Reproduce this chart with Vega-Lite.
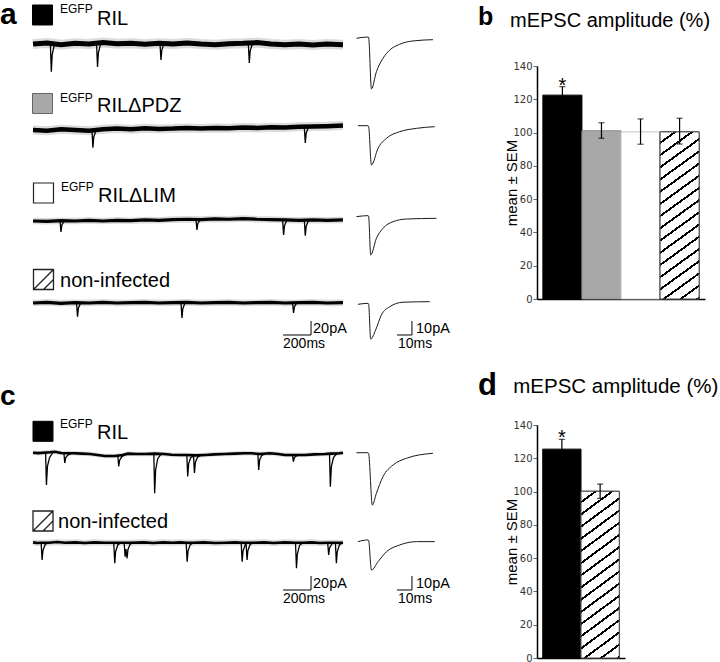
{
  "$schema": "https://vega.github.io/schema/vega-lite/v6.json",
  "padding": 0,
  "background": "white",
  "config": {"view": {"stroke": null}, "font": "Liberation Sans", "axis": {"labelOverlap": false, "labelBound": false, "labelFlush": false}},
  "datasets": {
    "labels": [
      {"row": "a1", "sup": "EGFP", "name": "RIL"},
      {"row": "a2", "sup": "EGFP", "name": "RILΔPDZ"},
      {"row": "a3", "sup": "EGFP", "name": "RILΔLIM"},
      {"row": "a4", "sup": "", "name": "non-infected"},
      {"row": "c1", "sup": "EGFP", "name": "RIL"},
      {"row": "c2", "sup": "", "name": "non-infected"}
    ],
    "rawA": [
      {"row":"a1","t":0,"i":0},{"row":"a1","t":100,"i":1.5},{"row":"a1","t":200,"i":-1},{"row":"a1","t":300,"i":1},{"row":"a1","t":400,"i":0},{"row":"a1","t":500,"i":2},{"row":"a1","t":600,"i":0.5},{"row":"a1","t":700,"i":1},{"row":"a1","t":800,"i":-0.5},{"row":"a1","t":900,"i":1},{"row":"a1","t":1000,"i":0},{"row":"a1","t":1100,"i":1.5},{"row":"a1","t":1200,"i":0},{"row":"a1","t":1300,"i":-1},{"row":"a1","t":1400,"i":0.5},{"row":"a1","t":1500,"i":1},{"row":"a1","t":1600,"i":2},{"row":"a1","t":1700,"i":0},{"row":"a1","t":1800,"i":-1},{"row":"a1","t":1900,"i":0},{"row":"a1","t":2000,"i":-1.5},{"row":"a1","t":2100,"i":0},{"row":"a1","t":2214,"i":-1},
      {"row":"a2","t":0,"i":0},{"row":"a2","t":100,"i":-1},{"row":"a2","t":200,"i":1},{"row":"a2","t":300,"i":0},{"row":"a2","t":400,"i":-1},{"row":"a2","t":500,"i":1},{"row":"a2","t":600,"i":2},{"row":"a2","t":700,"i":1},{"row":"a2","t":800,"i":2.5},{"row":"a2","t":900,"i":1.5},{"row":"a2","t":1000,"i":2},{"row":"a2","t":1100,"i":3},{"row":"a2","t":1200,"i":2},{"row":"a2","t":1300,"i":3},{"row":"a2","t":1400,"i":2.5},{"row":"a2","t":1500,"i":3.5},{"row":"a2","t":1600,"i":3},{"row":"a2","t":1700,"i":4},{"row":"a2","t":1800,"i":3.5},{"row":"a2","t":1900,"i":4.5},{"row":"a2","t":2000,"i":5},{"row":"a2","t":2100,"i":5.5},{"row":"a2","t":2214,"i":6.5},
      {"row":"a3","t":0,"i":0},{"row":"a3","t":100,"i":-0.5},{"row":"a3","t":200,"i":0.5},{"row":"a3","t":300,"i":0},{"row":"a3","t":400,"i":1},{"row":"a3","t":500,"i":0},{"row":"a3","t":600,"i":1},{"row":"a3","t":700,"i":0.5},{"row":"a3","t":800,"i":1.5},{"row":"a3","t":900,"i":1},{"row":"a3","t":1000,"i":2},{"row":"a3","t":1100,"i":2.5},{"row":"a3","t":1200,"i":2},{"row":"a3","t":1300,"i":3},{"row":"a3","t":1400,"i":2.5},{"row":"a3","t":1500,"i":3.5},{"row":"a3","t":1600,"i":2.5},{"row":"a3","t":1700,"i":2},{"row":"a3","t":1800,"i":1.5},{"row":"a3","t":1900,"i":1},{"row":"a3","t":2000,"i":1.5},{"row":"a3","t":2100,"i":1},{"row":"a3","t":2214,"i":1.5},
      {"row":"a4","t":0,"i":0},{"row":"a4","t":100,"i":1},{"row":"a4","t":200,"i":-0.5},{"row":"a4","t":300,"i":0.5},{"row":"a4","t":400,"i":0},{"row":"a4","t":500,"i":1},{"row":"a4","t":600,"i":0},{"row":"a4","t":700,"i":0.5},{"row":"a4","t":800,"i":1},{"row":"a4","t":900,"i":0},{"row":"a4","t":1000,"i":0.5},{"row":"a4","t":1100,"i":1},{"row":"a4","t":1200,"i":0},{"row":"a4","t":1300,"i":0.5},{"row":"a4","t":1400,"i":1},{"row":"a4","t":1500,"i":0},{"row":"a4","t":1600,"i":0.5},{"row":"a4","t":1700,"i":1},{"row":"a4","t":1800,"i":0},{"row":"a4","t":1900,"i":0.5},{"row":"a4","t":2000,"i":1},{"row":"a4","t":2100,"i":0},{"row":"a4","t":2214,"i":0.5}
    ],
    "evA": [
      {"row":"a1","ev":1,"t":124,"i":0.5},{"row":"a1","ev":1,"t":131,"i":-39.6},{"row":"a1","ev":1,"t":137,"i":-15.5},{"row":"a1","ev":1,"t":154,"i":0.5},
      {"row":"a1","ev":2,"t":454,"i":1},{"row":"a1","ev":2,"t":461,"i":-32.9},{"row":"a1","ev":2,"t":467,"i":-12.6},{"row":"a1","ev":2,"t":484,"i":1},
      {"row":"a1","ev":3,"t":907,"i":1},{"row":"a1","ev":3,"t":914,"i":-22.9},{"row":"a1","ev":3,"t":920,"i":-8.6},{"row":"a1","ev":3,"t":937,"i":1},
      {"row":"a1","ev":4,"t":1538,"i":1},{"row":"a1","ev":4,"t":1545,"i":-27.1},{"row":"a1","ev":4,"t":1551,"i":-10.2},{"row":"a1","ev":4,"t":1568,"i":1},
      {"row":"a2","ev":1,"t":421,"i":0},{"row":"a2","ev":1,"t":428,"i":-25.3},{"row":"a2","ev":1,"t":434,"i":-10},{"row":"a2","ev":1,"t":451,"i":0},
      {"row":"a2","ev":2,"t":1938,"i":4.5},{"row":"a2","ev":2,"t":1945,"i":-18.6},{"row":"a2","ev":2,"t":1951,"i":-5},{"row":"a2","ev":2,"t":1968,"i":4.5},
      {"row":"a3","ev":1,"t":193,"i":0.5},{"row":"a3","ev":1,"t":200,"i":-15.7},{"row":"a3","ev":1,"t":206,"i":-6},{"row":"a3","ev":1,"t":223,"i":0.5},
      {"row":"a3","ev":2,"t":1164,"i":2.3},{"row":"a3","ev":2,"t":1171,"i":-12.9},{"row":"a3","ev":2,"t":1177,"i":-3.8},{"row":"a3","ev":2,"t":1194,"i":2.3},
      {"row":"a3","ev":3,"t":1783,"i":1.5},{"row":"a3","ev":3,"t":1790,"i":-20},{"row":"a3","ev":3,"t":1796,"i":-7.1},{"row":"a3","ev":3,"t":1813,"i":1.5},
      {"row":"a3","ev":4,"t":1938,"i":1},{"row":"a3","ev":4,"t":1945,"i":-21},{"row":"a3","ev":4,"t":1951,"i":-7.8},{"row":"a3","ev":4,"t":1968,"i":1},
      {"row":"a4","ev":1,"t":311,"i":0.5},{"row":"a4","ev":1,"t":318,"i":-19.6},{"row":"a4","ev":1,"t":324,"i":-7.5},{"row":"a4","ev":1,"t":341,"i":0.5},
      {"row":"a4","ev":2,"t":1057,"i":0.8},{"row":"a4","ev":2,"t":1064,"i":-21.4},{"row":"a4","ev":2,"t":1070,"i":-8.1},{"row":"a4","ev":2,"t":1087,"i":0.8},
      {"row":"a4","ev":3,"t":1854,"i":0.3},{"row":"a4","ev":3,"t":1861,"i":-14.3},{"row":"a4","ev":3,"t":1867,"i":-5.5},{"row":"a4","ev":3,"t":1884,"i":0.3}
    ],
    "rawC": [
      {"row":"c1","t":0,"i":1.9},{"row":"c1","t":40,"i":1.2},{"row":"c1","t":71,"i":1.9},{"row":"c1","t":120,"i":2.5},{"row":"c1","t":157,"i":3.3},{"row":"c1","t":200,"i":1.5},{"row":"c1","t":260,"i":1},{"row":"c1","t":294,"i":1},{"row":"c1","t":350,"i":0.5},{"row":"c1","t":407,"i":0},{"row":"c1","t":460,"i":-1.5},{"row":"c1","t":514,"i":-2.9},{"row":"c1","t":586,"i":-2.9},{"row":"c1","t":640,"i":-1.5},{"row":"c1","t":679,"i":0.5},{"row":"c1","t":740,"i":0},{"row":"c1","t":800,"i":0},{"row":"c1","t":870,"i":0.5},{"row":"c1","t":936,"i":0},{"row":"c1","t":990,"i":-1},{"row":"c1","t":1050,"i":-1.4},{"row":"c1","t":1100,"i":-1.4},{"row":"c1","t":1160,"i":-2},{"row":"c1","t":1229,"i":-1.4},{"row":"c1","t":1300,"i":-0.5},{"row":"c1","t":1371,"i":0},{"row":"c1","t":1440,"i":0.5},{"row":"c1","t":1514,"i":1},{"row":"c1","t":1560,"i":1},{"row":"c1","t":1620,"i":0},{"row":"c1","t":1693,"i":1},{"row":"c1","t":1750,"i":0},{"row":"c1","t":1800,"i":-1.4},{"row":"c1","t":1860,"i":-1.4},{"row":"c1","t":1943,"i":-1.4},{"row":"c1","t":2010,"i":-0.5},{"row":"c1","t":2086,"i":0},{"row":"c1","t":2130,"i":0.5},{"row":"c1","t":2191,"i":1},{"row":"c1","t":2214,"i":1.9},
      {"row":"c2","t":0,"i":0.5},{"row":"c2","t":30,"i":-0.5},{"row":"c2","t":58,"i":0},{"row":"c2","t":112,"i":0},{"row":"c2","t":170,"i":1},{"row":"c2","t":230,"i":0},{"row":"c2","t":300,"i":0.5},{"row":"c2","t":370,"i":-0.5},{"row":"c2","t":440,"i":0.5},{"row":"c2","t":510,"i":0},{"row":"c2","t":577,"i":0},{"row":"c2","t":631,"i":0},{"row":"c2","t":700,"i":0},{"row":"c2","t":790,"i":0.5},{"row":"c2","t":860,"i":-0.5},{"row":"c2","t":930,"i":0.5},{"row":"c2","t":1000,"i":0},{"row":"c2","t":1050,"i":0.5},{"row":"c2","t":1100,"i":0},{"row":"c2","t":1148,"i":0},{"row":"c2","t":1220,"i":0.5},{"row":"c2","t":1300,"i":-0.5},{"row":"c2","t":1380,"i":0},{"row":"c2","t":1440,"i":0.5},{"row":"c2","t":1500,"i":0},{"row":"c2","t":1576,"i":0},{"row":"c2","t":1650,"i":0.5},{"row":"c2","t":1720,"i":-0.5},{"row":"c2","t":1800,"i":0.5},{"row":"c2","t":1875,"i":0},{"row":"c2","t":1929,"i":0},{"row":"c2","t":1990,"i":0.5},{"row":"c2","t":2050,"i":-0.5},{"row":"c2","t":2105,"i":0},{"row":"c2","t":2160,"i":0},{"row":"c2","t":2214,"i":0}
    ],
    "evC": [
      {"row":"c1","ev":1,"t":90,"i":1.9},{"row":"c1","ev":1,"t":96,"i":-44.3},{"row":"c1","ev":1,"t":103,"i":-17.7},{"row":"c1","ev":1,"t":118,"i":-5.3},{"row":"c1","ev":1,"t":143,"i":2.5},
      {"row":"c1","ev":2,"t":221,"i":1},{"row":"c1","ev":2,"t":227,"i":-12.9},{"row":"c1","ev":2,"t":234,"i":-5},{"row":"c1","ev":2,"t":249,"i":-1.5},{"row":"c1","ev":2,"t":274,"i":1},
      {"row":"c1","ev":3,"t":606,"i":-2.9},{"row":"c1","ev":3,"t":612,"i":-17.6},{"row":"c1","ev":3,"t":619,"i":-8.8},{"row":"c1","ev":3,"t":634,"i":-4},{"row":"c1","ev":3,"t":659,"i":-0.5},
      {"row":"c1","ev":4,"t":863,"i":0},{"row":"c1","ev":4,"t":869,"i":-56.2},{"row":"c1","ev":4,"t":876,"i":-22.5},{"row":"c1","ev":4,"t":891,"i":-6.7},{"row":"c1","ev":4,"t":916,"i":0.3},
      {"row":"c1","ev":5,"t":1099,"i":-1.4},{"row":"c1","ev":5,"t":1105,"i":-32},{"row":"c1","ev":5,"t":1112,"i":-13.6},{"row":"c1","ev":5,"t":1127,"i":-5},{"row":"c1","ev":5,"t":1147,"i":-3},{"row":"c1","ev":5,"t":1153,"i":-27},{"row":"c1","ev":5,"t":1160,"i":-11.7},{"row":"c1","ev":5,"t":1175,"i":-4.5},{"row":"c1","ev":5,"t":1200,"i":-1.6},
      {"row":"c1","ev":6,"t":1606,"i":1},{"row":"c1","ev":6,"t":1612,"i":-22.9},{"row":"c1","ev":6,"t":1619,"i":-8.6},{"row":"c1","ev":6,"t":1634,"i":-1.9},{"row":"c1","ev":6,"t":1659,"i":0.5},
      {"row":"c1","ev":7,"t":1854,"i":-1.4},{"row":"c1","ev":7,"t":1860,"i":-11},{"row":"c1","ev":7,"t":1867,"i":-5.2},{"row":"c1","ev":7,"t":1882,"i":-2.5},{"row":"c1","ev":7,"t":1907,"i":-1.4},
      {"row":"c1","ev":8,"t":2118,"i":0.5},{"row":"c1","ev":8,"t":2124,"i":-46.7},{"row":"c1","ev":8,"t":2131,"i":-18.4},{"row":"c1","ev":8,"t":2146,"i":-5.2},{"row":"c1","ev":8,"t":2171,"i":0.8},
      {"row":"c2","ev":1,"t":58,"i":0},{"row":"c2","ev":1,"t":65,"i":-24.7},{"row":"c2","ev":1,"t":71,"i":-11},{"row":"c2","ev":1,"t":87,"i":-2.5},{"row":"c2","ev":1,"t":112,"i":0},
      {"row":"c2","ev":2,"t":577,"i":0},{"row":"c2","ev":2,"t":584,"i":-29.4},{"row":"c2","ev":2,"t":590,"i":-13},{"row":"c2","ev":2,"t":606,"i":-3},{"row":"c2","ev":2,"t":631,"i":0},
      {"row":"c2","ev":3,"t":651,"i":0},{"row":"c2","ev":3,"t":658,"i":-20},{"row":"c2","ev":3,"t":664,"i":-9},{"row":"c2","ev":3,"t":672,"i":-22.3},{"row":"c2","ev":3,"t":678,"i":-10},{"row":"c2","ev":3,"t":694,"i":-2},{"row":"c2","ev":3,"t":719,"i":0},
      {"row":"c2","ev":4,"t":1094,"i":0},{"row":"c2","ev":4,"t":1101,"i":-27.1},{"row":"c2","ev":4,"t":1107,"i":-12},{"row":"c2","ev":4,"t":1123,"i":-2.7},{"row":"c2","ev":4,"t":1148,"i":0},
      {"row":"c2","ev":5,"t":1487,"i":0},{"row":"c2","ev":5,"t":1494,"i":-27.1},{"row":"c2","ev":5,"t":1500,"i":-12},{"row":"c2","ev":5,"t":1516,"i":-3},{"row":"c2","ev":5,"t":1522,"i":-1},{"row":"c2","ev":5,"t":1529,"i":-24.7},{"row":"c2","ev":5,"t":1535,"i":-11},{"row":"c2","ev":5,"t":1551,"i":-2.5},{"row":"c2","ev":5,"t":1576,"i":0},
      {"row":"c2","ev":6,"t":1875,"i":0},{"row":"c2","ev":6,"t":1882,"i":-36.6},{"row":"c2","ev":6,"t":1888,"i":-16.5},{"row":"c2","ev":6,"t":1904,"i":-3.7},{"row":"c2","ev":6,"t":1929,"i":0},
      {"row":"c2","ev":7,"t":2105,"i":0},{"row":"c2","ev":7,"t":2112,"i":-17.6},{"row":"c2","ev":7,"t":2118,"i":-8},{"row":"c2","ev":7,"t":2134,"i":-1.8},{"row":"c2","ev":7,"t":2160,"i":0},
      {"row":"c2","ev":8,"t":2160,"i":0},{"row":"c2","ev":8,"t":2167,"i":-29.4},{"row":"c2","ev":8,"t":2173,"i":-13},{"row":"c2","ev":8,"t":2189,"i":-3},{"row":"c2","ev":8,"t":2214,"i":0}
    ],
    "avg": [
      {"row":"a1","t":-7.7,"i":-0.2},{"row":"a1","t":0,"i":0.7},{"row":"a1","t":0.4,"i":0.5},{"row":"a1","t":2.3,"i":-36.4},{"row":"a1","t":5.6,"i":-24.1},{"row":"a1","t":10,"i":-14.5},{"row":"a1","t":14.5,"i":-8.6},{"row":"a1","t":21.1,"i":-4.5},{"row":"a1","t":30,"i":-2.1},{"row":"a1","t":43.3,"i":-1.2},
      {"row":"a2","t":-6.7,"i":0},{"row":"a2","t":0,"i":0},{"row":"a2","t":0.4,"i":-0.5},{"row":"a2","t":2.3,"i":-28.1},{"row":"a2","t":6.7,"i":-16.1},{"row":"a2","t":12.3,"i":-9},{"row":"a2","t":21.1,"i":-4.3},{"row":"a2","t":32.3,"i":-1.9},{"row":"a2","t":44.5,"i":-0.7},
      {"row":"a3","t":-7.7,"i":-0.1},{"row":"a3","t":0,"i":0.6},{"row":"a3","t":0.4,"i":0.3},{"row":"a3","t":1.8,"i":-27.5},{"row":"a3","t":5.6,"i":-15.6},{"row":"a3","t":10,"i":-8.4},{"row":"a3","t":16.7,"i":-3.7},{"row":"a3","t":25.6,"i":-1.8},{"row":"a3","t":45.6,"i":-1.3},
      {"row":"a4","t":-6.7,"i":-0.6},{"row":"a4","t":0,"i":0.1},{"row":"a4","t":0.4,"i":-0.3},{"row":"a4","t":1.8,"i":-25.4},{"row":"a4","t":5.1,"i":-18.9},{"row":"a4","t":8.9,"i":-8.2},{"row":"a4","t":14.5,"i":-2.3},{"row":"a4","t":23.3,"i":0.9},{"row":"a4","t":41.1,"i":1.3},
      {"row":"c1","t":-7.7,"i":0},{"row":"c1","t":0,"i":0},{"row":"c1","t":0.4,"i":-0.5},{"row":"c1","t":2.9,"i":-37.4},{"row":"c1","t":5.6,"i":-29},{"row":"c1","t":10,"i":-17.1},{"row":"c1","t":16.7,"i":-8.8},{"row":"c1","t":25.6,"i":-4},{"row":"c1","t":43.3,"i":-0.4},
      {"row":"c2","t":-6.7,"i":-0.1},{"row":"c2","t":0,"i":1.1},{"row":"c2","t":0.4,"i":0.8},{"row":"c2","t":2.3,"i":-20.4},{"row":"c2","t":6.7,"i":-14.4},{"row":"c2","t":12.3,"i":-7.3},{"row":"c2","t":21.1,"i":-2.5},{"row":"c2","t":32.3,"i":-0.1},{"row":"c2","t":44.5,"i":-0.1}
    ],
    "barsB": [
      {"cond": "EGFP-RIL", "mean": 122.5, "lo": 117.4, "hi": 127.6, "sig": true},
      {"cond": "EGFP-RILΔPDZ", "mean": 101.1, "lo": 96.6, "hi": 105.9, "sig": false},
      {"cond": "EGFP-RILΔLIM", "mean": 100.4, "lo": 93.0, "hi": 108.2, "sig": false},
      {"cond": "non-infected", "mean": 100.4, "lo": 93.1, "hi": 108.6, "sig": false}
    ],
    "barsD": [
      {"cond": "EGFP-RIL", "mean": 125.5, "lo": 119.6, "hi": 131.4, "sig": true},
      {"cond": "non-infected", "mean": 100.2, "lo": 95.9, "hi": 104.5, "sig": false}
    ]
  },
  "spacing": 18,
  "vconcat": [
    {
      "bounds": "flush",
      "spacing": 77,
      "hconcat": [
        {
          "width": 460, "height": 233,
          "resolve": {"scale": {"x": "independent", "y": "independent"}},
          "layer": [
            {"layer": [
              {"data": {"name": "rawA"}, "transform": [{"filter": "datum.row === 'a1'"}],
               "mark": {"type": "line", "color": "#888", "strokeWidth": 10, "opacity": 0.3},
               "encoding": {"x": {"field": "t", "type": "quantitative", "scale": {"domain": [-235.7, 3050], "nice": false, "zero": false}, "axis": null},
                            "y": {"field": "i", "type": "quantitative", "scale": {"domain": [-364.29, -31.43], "nice": false, "zero": false}, "axis": null}}},
              {"data": {"name": "rawA"}, "transform": [{"filter": "datum.row === 'a1'"}],
               "mark": {"type": "line", "color": "black", "strokeWidth": 5},
               "encoding": {"x": {"field": "t", "type": "quantitative", "axis": null}, "y": {"field": "i", "type": "quantitative", "axis": null}}},
              {"data": {"name": "evA"}, "transform": [{"filter": "datum.row === 'a1'"}],
               "mark": {"type": "line", "color": "black", "strokeWidth": 1.3},
               "encoding": {"x": {"field": "t", "type": "quantitative", "axis": null}, "y": {"field": "i", "type": "quantitative", "axis": null}, "detail": {"field": "ev"}}},
              {"data": {"name": "labels"}, "transform": [{"filter": "datum.row === 'a1'"}],
               "mark": {"type": "point", "shape": "square", "size": 400, "filled": true, "fill": "black", "stroke": "black", "strokeWidth": 1, "opacity": 1},
               "encoding": {"x": {"datum": 67.9, "type": "quantitative", "axis": null}, "y": {"datum": 41.43, "type": "quantitative", "axis": null}}},
              {"data": {"name": "labels"}, "transform": [{"filter": "datum.row === 'a1'"}],
               "mark": {"type": "text", "align": "left", "baseline": "alphabetic", "fontSize": 12, "color": "black"},
               "encoding": {"x": {"datum": 192.9, "type": "quantitative", "axis": null}, "y": {"datum": 44.29, "type": "quantitative", "axis": null}, "text": {"field": "sup"}}},
              {"data": {"name": "labels"}, "transform": [{"filter": "datum.row === 'a1'"}],
               "mark": {"type": "text", "align": "left", "baseline": "alphabetic", "fontSize": 20, "color": "black"},
               "encoding": {"x": {"datum": 457.1, "type": "quantitative", "axis": null}, "y": {"datum": 27.14, "type": "quantitative", "axis": null}, "text": {"field": "name"}}},
              {"data": {"name": "labels"}, "transform": [{"filter": "datum.row === 'a1'"}],
               "mark": {"type": "text", "align": "left", "baseline": "alphabetic", "fontSize": 30, "fontWeight": "bold", "color": "black", "text": "a"},
               "encoding": {"x": {"datum": -235.7, "type": "quantitative", "axis": null}, "y": {"datum": 27.86, "type": "quantitative", "axis": null}}}
            ]},
            {"data": {"name": "avg"}, "transform": [{"filter": "datum.row === 'a1'"}],
             "mark": {"type": "line", "color": "#1a1a1a", "strokeWidth": 1, "interpolate": "monotone"},
             "encoding": {"x": {"field": "t", "type": "quantitative", "scale": {"domain": [-245.33, 61.33], "nice": false, "zero": false}, "axis": null},
                          "y": {"field": "i", "type": "quantitative", "scale": {"domain": [-186.43, -20], "nice": false, "zero": false}, "axis": null}}},
            {"layer": [
              {"data": {"name": "rawA"}, "transform": [{"filter": "datum.row === 'a2'"}],
               "mark": {"type": "line", "color": "#888", "strokeWidth": 9, "opacity": 0.3},
               "encoding": {"x": {"field": "t", "type": "quantitative", "scale": {"domain": [-235.7, 3050], "nice": false, "zero": false}, "axis": null},
                            "y": {"field": "i", "type": "quantitative", "scale": {"domain": [-241.43, 91.43], "nice": false, "zero": false}, "axis": null}}},
              {"data": {"name": "rawA"}, "transform": [{"filter": "datum.row === 'a2'"}],
               "mark": {"type": "line", "color": "black", "strokeWidth": 4.5},
               "encoding": {"x": {"field": "t", "type": "quantitative", "axis": null}, "y": {"field": "i", "type": "quantitative", "axis": null}}},
              {"data": {"name": "evA"}, "transform": [{"filter": "datum.row === 'a2'"}],
               "mark": {"type": "line", "color": "black", "strokeWidth": 1.3},
               "encoding": {"x": {"field": "t", "type": "quantitative", "axis": null}, "y": {"field": "i", "type": "quantitative", "axis": null}, "detail": {"field": "ev"}}},
              {"data": {"name": "labels"}, "transform": [{"filter": "datum.row === 'a2'"}],
               "mark": {"type": "point", "shape": "square", "size": 400, "filled": true, "fill": "#a8a8a8", "stroke": "#666", "strokeWidth": 1, "opacity": 1},
               "encoding": {"x": {"datum": 67.9, "type": "quantitative", "axis": null}, "y": {"datum": 37.86, "type": "quantitative", "axis": null}}},
              {"data": {"name": "labels"}, "transform": [{"filter": "datum.row === 'a2'"}],
               "mark": {"type": "text", "align": "left", "baseline": "alphabetic", "fontSize": 12, "color": "black"},
               "encoding": {"x": {"datum": 192.9, "type": "quantitative", "axis": null}, "y": {"datum": 40, "type": "quantitative", "axis": null}, "text": {"field": "sup"}}},
              {"data": {"name": "labels"}, "transform": [{"filter": "datum.row === 'a2'"}],
               "mark": {"type": "text", "align": "left", "baseline": "alphabetic", "fontSize": 20, "color": "black"},
               "encoding": {"x": {"datum": 457.1, "type": "quantitative", "axis": null}, "y": {"datum": 25.71, "type": "quantitative", "axis": null}, "text": {"field": "name"}}}
            ]},
            {"data": {"name": "avg"}, "transform": [{"filter": "datum.row === 'a2'"}],
             "mark": {"type": "line", "color": "#1a1a1a", "strokeWidth": 1, "interpolate": "monotone"},
             "encoding": {"x": {"field": "t", "type": "quantitative", "scale": {"domain": [-245.33, 61.33], "nice": false, "zero": false}, "axis": null},
                          "y": {"field": "i", "type": "quantitative", "scale": {"domain": [-123.79, 42.64], "nice": false, "zero": false}, "axis": null}}},
            {"layer": [
              {"data": {"name": "rawA"}, "transform": [{"filter": "datum.row === 'a3'"}],
               "mark": {"type": "line", "color": "#888", "strokeWidth": 6.5, "opacity": 0.3},
               "encoding": {"x": {"field": "t", "type": "quantitative", "scale": {"domain": [-235.7, 3050], "nice": false, "zero": false}, "axis": null},
                            "y": {"field": "i", "type": "quantitative", "scale": {"domain": [-111.43, 221.43], "nice": false, "zero": false}, "axis": null}}},
              {"data": {"name": "rawA"}, "transform": [{"filter": "datum.row === 'a3'"}],
               "mark": {"type": "line", "color": "black", "strokeWidth": 3.2},
               "encoding": {"x": {"field": "t", "type": "quantitative", "axis": null}, "y": {"field": "i", "type": "quantitative", "axis": null}}},
              {"data": {"name": "evA"}, "transform": [{"filter": "datum.row === 'a3'"}],
               "mark": {"type": "line", "color": "black", "strokeWidth": 1.3},
               "encoding": {"x": {"field": "t", "type": "quantitative", "axis": null}, "y": {"field": "i", "type": "quantitative", "axis": null}, "detail": {"field": "ev"}}},
              {"data": {"name": "labels"}, "transform": [{"filter": "datum.row === 'a3'"}],
               "mark": {"type": "point", "shape": "square", "size": 400, "filled": true, "fill": "white", "stroke": "#222", "strokeWidth": 1.2, "opacity": 1},
               "encoding": {"x": {"datum": 75, "type": "quantitative", "axis": null}, "y": {"datum": 40, "type": "quantitative", "axis": null}}},
              {"data": {"name": "labels"}, "transform": [{"filter": "datum.row === 'a3'"}],
               "mark": {"type": "text", "align": "left", "baseline": "alphabetic", "fontSize": 12, "color": "black"},
               "encoding": {"x": {"datum": 200, "type": "quantitative", "axis": null}, "y": {"datum": 42.86, "type": "quantitative", "axis": null}, "text": {"field": "sup"}}},
              {"data": {"name": "labels"}, "transform": [{"filter": "datum.row === 'a3'"}],
               "mark": {"type": "text", "align": "left", "baseline": "alphabetic", "fontSize": 20, "color": "black"},
               "encoding": {"x": {"datum": 464.3, "type": "quantitative", "axis": null}, "y": {"datum": 27.14, "type": "quantitative", "axis": null}, "text": {"field": "name"}}}
            ]},
            {"data": {"name": "avg"}, "transform": [{"filter": "datum.row === 'a3'"}],
             "mark": {"type": "line", "color": "#1a1a1a", "strokeWidth": 1, "interpolate": "monotone"},
             "encoding": {"x": {"field": "t", "type": "quantitative", "scale": {"domain": [-245.33, 61.33], "nice": false, "zero": false}, "axis": null},
                          "y": {"field": "i", "type": "quantitative", "scale": {"domain": [-58.93, 107.5], "nice": false, "zero": false}, "axis": null}}},
            {"layer": [
              {"data": {"name": "rawA"}, "transform": [{"filter": "datum.row === 'a4'"}],
               "mark": {"type": "line", "color": "#888", "strokeWidth": 6.5, "opacity": 0.3},
               "encoding": {"x": {"field": "t", "type": "quantitative", "scale": {"domain": [-235.7, 3050], "nice": false, "zero": false}, "axis": null},
                            "y": {"field": "i", "type": "quantitative", "scale": {"domain": [5.71, 338.57], "nice": false, "zero": false}, "axis": null}}},
              {"data": {"name": "rawA"}, "transform": [{"filter": "datum.row === 'a4'"}],
               "mark": {"type": "line", "color": "black", "strokeWidth": 3.2},
               "encoding": {"x": {"field": "t", "type": "quantitative", "axis": null}, "y": {"field": "i", "type": "quantitative", "axis": null}}},
              {"data": {"name": "evA"}, "transform": [{"filter": "datum.row === 'a4'"}],
               "mark": {"type": "line", "color": "black", "strokeWidth": 1.3},
               "encoding": {"x": {"field": "t", "type": "quantitative", "axis": null}, "y": {"field": "i", "type": "quantitative", "axis": null}, "detail": {"field": "ev"}}},
              {"data": {"name": "labels"}, "transform": [{"filter": "datum.row === 'a4'"}],
               "mark": {"type": "point", "shape": "M-1,-1L1,-1L1,1L-1,1Z M-1,1L1,-1 M0,1L1,0", "size": 400, "filled": true, "fill": "white", "stroke": "#222", "strokeWidth": 1.3, "opacity": 1},
               "encoding": {"x": {"datum": 75, "type": "quantitative", "axis": null}, "y": {"datum": 33.57, "type": "quantitative", "axis": null}}},
              {"data": {"name": "labels"}, "transform": [{"filter": "datum.row === 'a4'"}],
               "mark": {"type": "text", "align": "left", "baseline": "alphabetic", "fontSize": 20, "color": "black"},
               "encoding": {"x": {"datum": 192.9, "type": "quantitative", "axis": null}, "y": {"datum": 22.86, "type": "quantitative", "axis": null}, "text": {"field": "name"}}},
              {"data": {"values": [{}]}, "mark": {"type": "rule", "color": "black", "strokeWidth": 1},
               "encoding": {"x": {"datum": 1786, "type": "quantitative", "axis": null}, "x2": {"datum": 1986}, "y": {"datum": -45.71, "type": "quantitative", "axis": null}}},
              {"data": {"values": [{}]}, "mark": {"type": "rule", "color": "black", "strokeWidth": 1},
               "encoding": {"x": {"datum": 1986, "type": "quantitative", "axis": null}, "y": {"datum": -45.71, "type": "quantitative", "axis": null}, "y2": {"datum": -25.71}}},
              {"data": {"values": [{}]}, "mark": {"type": "text", "align": "left", "baseline": "alphabetic", "fontSize": 14.5, "color": "black", "text": "20pA"},
               "encoding": {"x": {"datum": 2000, "type": "quantitative", "axis": null}, "y": {"datum": -42.86, "type": "quantitative", "axis": null}}},
              {"data": {"values": [{}]}, "mark": {"type": "text", "align": "left", "baseline": "alphabetic", "fontSize": 14, "color": "black", "text": "200ms"},
               "encoding": {"x": {"datum": 1786, "type": "quantitative", "axis": null}, "y": {"datum": -64.29, "type": "quantitative", "axis": null}}}
            ]},
            {"layer": [
              {"data": {"name": "avg"}, "transform": [{"filter": "datum.row === 'a4'"}],
               "mark": {"type": "line", "color": "#1a1a1a", "strokeWidth": 1, "interpolate": "monotone"},
               "encoding": {"x": {"field": "t", "type": "quantitative", "scale": {"domain": [-245.33, 61.33], "nice": false, "zero": false}, "axis": null},
                            "y": {"field": "i", "type": "quantitative", "scale": {"domain": [3.21, 169.64], "nice": false, "zero": false}, "axis": null}}},
              {"data": {"values": [{}]}, "mark": {"type": "rule", "color": "black", "strokeWidth": 1},
               "encoding": {"x": {"datum": 19.3, "type": "quantitative", "axis": null}, "x2": {"datum": 29.3}, "y": {"datum": -22.5, "type": "quantitative", "axis": null}}},
              {"data": {"values": [{}]}, "mark": {"type": "rule", "color": "black", "strokeWidth": 1},
               "encoding": {"x": {"datum": 29.3, "type": "quantitative", "axis": null}, "y": {"datum": -22.5, "type": "quantitative", "axis": null}, "y2": {"datum": -12.5}}},
              {"data": {"values": [{}]}, "mark": {"type": "text", "align": "left", "baseline": "alphabetic", "fontSize": 14.5, "color": "black", "text": "10pA"},
               "encoding": {"x": {"datum": 32, "type": "quantitative", "axis": null}, "y": {"datum": -21.07, "type": "quantitative", "axis": null}}},
              {"data": {"values": [{}]}, "mark": {"type": "text", "align": "left", "baseline": "alphabetic", "fontSize": 14, "color": "black", "text": "10ms"},
               "encoding": {"x": {"datum": 20, "type": "quantitative", "axis": null}, "y": {"datum": -31.79, "type": "quantitative", "axis": null}}}
            ]}
          ]
        },
        {
          "width": 168, "height": 233,
          "data": {"name": "barsB"},
          "layer": [
            {"mark": {"type": "bar", "strokeWidth": 1},
             "encoding": {
               "x": {"field": "cond", "type": "nominal", "sort": null, "scale": {"paddingInner": 0, "paddingOuter": 0.15}, "axis": {"labels": false, "ticks": false, "title": null, "domainColor": "black", "domainWidth": 1.5}},
               "y": {"field": "mean", "type": "quantitative", "scale": {"domain": [0, 140], "nice": false}, "axis": {"values": [0, 20, 40, 60, 80, 100, 120, 140], "labelOverlap": false, "grid": false, "labelFont": "DejaVu Sans", "labelFontSize": 10, "labelColor": "#333", "labelPadding": 1, "tickSize": 4, "tickColor": "#666", "domainColor": "black", "domainWidth": 1.5, "title": "mean ± SEM", "titleFontSize": 15, "titleFontWeight": "normal", "titleColor": "black", "titleX": -17.5, "titleY": 116.5}},
               "fill": {"field": "cond", "type": "nominal", "sort": null, "scale": {"domain": ["EGFP-RIL", "EGFP-RILΔPDZ", "EGFP-RILΔLIM", "non-infected"], "range": ["#000000", "#a8a8a8", "#ffffff", "#ffffff"]}, "legend": null},
               "stroke": {"field": "cond", "type": "nominal", "sort": null, "scale": {"domain": ["EGFP-RIL", "EGFP-RILΔPDZ", "EGFP-RILΔLIM", "non-infected"], "range": ["#000000", "#8c8c8c", "#c4c4c4", "#444444"]}, "legend": null}
             }},
            {"transform": [{"filter": "datum.cond === 'non-infected'"}],
             "mark": {"type": "bar", "stroke": "#444", "strokeWidth": 1,
               "fill": {"gradient": "linear", "x1": 0, "y1": 0, "x2": 0.1923, "y2": 1.1367, "stops": [
                 {"offset": 0, "color": "#fff"}, {"offset": 0.05, "color": "#fff"}, {"offset": 0.05, "color": "#000"}, {"offset": 0.0625, "color": "#000"},
                 {"offset": 0.0625, "color": "#fff"}, {"offset": 0.1125, "color": "#fff"}, {"offset": 0.1125, "color": "#000"}, {"offset": 0.125, "color": "#000"},
                 {"offset": 0.125, "color": "#fff"}, {"offset": 0.175, "color": "#fff"}, {"offset": 0.175, "color": "#000"}, {"offset": 0.1875, "color": "#000"},
                 {"offset": 0.1875, "color": "#fff"}, {"offset": 0.2375, "color": "#fff"}, {"offset": 0.2375, "color": "#000"}, {"offset": 0.25, "color": "#000"},
                 {"offset": 0.25, "color": "#fff"}, {"offset": 0.3, "color": "#fff"}, {"offset": 0.3, "color": "#000"}, {"offset": 0.3125, "color": "#000"},
                 {"offset": 0.3125, "color": "#fff"}, {"offset": 0.3625, "color": "#fff"}, {"offset": 0.3625, "color": "#000"}, {"offset": 0.375, "color": "#000"},
                 {"offset": 0.375, "color": "#fff"}, {"offset": 0.425, "color": "#fff"}, {"offset": 0.425, "color": "#000"}, {"offset": 0.4375, "color": "#000"},
                 {"offset": 0.4375, "color": "#fff"}, {"offset": 0.4875, "color": "#fff"}, {"offset": 0.4875, "color": "#000"}, {"offset": 0.5, "color": "#000"},
                 {"offset": 0.5, "color": "#fff"}, {"offset": 0.55, "color": "#fff"}, {"offset": 0.55, "color": "#000"}, {"offset": 0.5625, "color": "#000"},
                 {"offset": 0.5625, "color": "#fff"}, {"offset": 0.6125, "color": "#fff"}, {"offset": 0.6125, "color": "#000"}, {"offset": 0.625, "color": "#000"},
                 {"offset": 0.625, "color": "#fff"}, {"offset": 0.675, "color": "#fff"}, {"offset": 0.675, "color": "#000"}, {"offset": 0.6875, "color": "#000"},
                 {"offset": 0.6875, "color": "#fff"}, {"offset": 0.7375, "color": "#fff"}, {"offset": 0.7375, "color": "#000"}, {"offset": 0.75, "color": "#000"},
                 {"offset": 0.75, "color": "#fff"}, {"offset": 0.8, "color": "#fff"}, {"offset": 0.8, "color": "#000"}, {"offset": 0.8125, "color": "#000"},
                 {"offset": 0.8125, "color": "#fff"}, {"offset": 0.8625, "color": "#fff"}, {"offset": 0.8625, "color": "#000"}, {"offset": 0.875, "color": "#000"},
                 {"offset": 0.875, "color": "#fff"}, {"offset": 0.925, "color": "#fff"}, {"offset": 0.925, "color": "#000"}, {"offset": 0.9375, "color": "#000"},
                 {"offset": 0.9375, "color": "#fff"}, {"offset": 0.9875, "color": "#fff"}, {"offset": 0.9875, "color": "#000"}, {"offset": 1, "color": "#000"}
               ]}},
             "encoding": {"x": {"field": "cond", "type": "nominal", "sort": null, "axis": {"labels": false, "ticks": false, "title": null, "domainColor": "black", "domainWidth": 1.5}}, "y": {"field": "mean", "type": "quantitative", "axis": {"values": [0, 20, 40, 60, 80, 100, 120, 140], "labelOverlap": false, "grid": false, "labelFont": "DejaVu Sans", "labelFontSize": 10, "labelColor": "#333", "labelPadding": 1, "tickSize": 4, "tickColor": "#666", "domainColor": "black", "domainWidth": 1.5, "title": "mean ± SEM", "titleFontSize": 15, "titleFontWeight": "normal", "titleColor": "black", "titleX": -17.5, "titleY": 116.5}}}},
            {"mark": {"type": "rule", "color": "black", "strokeWidth": 1.2},
             "encoding": {"x": {"field": "cond", "type": "nominal", "sort": null, "axis": {"labels": false, "ticks": false, "title": null, "domainColor": "black", "domainWidth": 1.5}}, "y": {"field": "lo", "type": "quantitative", "axis": {"values": [0, 20, 40, 60, 80, 100, 120, 140], "labelOverlap": false, "grid": false, "labelFont": "DejaVu Sans", "labelFontSize": 10, "labelColor": "#333", "labelPadding": 1, "tickSize": 4, "tickColor": "#666", "domainColor": "black", "domainWidth": 1.5, "title": "mean ± SEM", "titleFontSize": 15, "titleFontWeight": "normal", "titleColor": "black", "titleX": -17.5, "titleY": 116.5}}, "y2": {"field": "hi"}}},
            {"mark": {"type": "tick", "color": "black", "thickness": 1.2, "size": 6},
             "encoding": {"x": {"field": "cond", "type": "nominal", "sort": null, "axis": {"labels": false, "ticks": false, "title": null, "domainColor": "black", "domainWidth": 1.5}}, "y": {"field": "hi", "type": "quantitative", "axis": {"values": [0, 20, 40, 60, 80, 100, 120, 140], "labelOverlap": false, "grid": false, "labelFont": "DejaVu Sans", "labelFontSize": 10, "labelColor": "#333", "labelPadding": 1, "tickSize": 4, "tickColor": "#666", "domainColor": "black", "domainWidth": 1.5, "title": "mean ± SEM", "titleFontSize": 15, "titleFontWeight": "normal", "titleColor": "black", "titleX": -17.5, "titleY": 116.5}}}},
            {"mark": {"type": "tick", "color": "black", "thickness": 1.2, "size": 6},
             "encoding": {"x": {"field": "cond", "type": "nominal", "sort": null, "axis": {"labels": false, "ticks": false, "title": null, "domainColor": "black", "domainWidth": 1.5}}, "y": {"field": "lo", "type": "quantitative", "axis": {"values": [0, 20, 40, 60, 80, 100, 120, 140], "labelOverlap": false, "grid": false, "labelFont": "DejaVu Sans", "labelFontSize": 10, "labelColor": "#333", "labelPadding": 1, "tickSize": 4, "tickColor": "#666", "domainColor": "black", "domainWidth": 1.5, "title": "mean ± SEM", "titleFontSize": 15, "titleFontWeight": "normal", "titleColor": "black", "titleX": -17.5, "titleY": 116.5}}}},
            {"transform": [{"filter": "datum.sig"}],
             "mark": {"type": "text", "text": "*", "fontSize": 20, "baseline": "alphabetic", "dy": 5, "color": "black"},
             "encoding": {"x": {"field": "cond", "type": "nominal", "sort": null, "axis": {"labels": false, "ticks": false, "title": null, "domainColor": "black", "domainWidth": 1.5}}, "y": {"field": "hi", "type": "quantitative", "axis": {"values": [0, 20, 40, 60, 80, 100, 120, 140], "labelOverlap": false, "grid": false, "labelFont": "DejaVu Sans", "labelFontSize": 10, "labelColor": "#333", "labelPadding": 1, "tickSize": 4, "tickColor": "#666", "domainColor": "black", "domainWidth": 1.5, "title": "mean ± SEM", "titleFontSize": 15, "titleFontWeight": "normal", "titleColor": "black", "titleX": -17.5, "titleY": 116.5}}}},
            {"transform": [{"filter": "datum.sig"}],
             "mark": {"type": "text", "text": "b", "fontSize": 25, "fontWeight": "bold", "align": "left", "baseline": "alphabetic", "dx": -84.4, "color": "black"},
             "encoding": {"x": {"field": "cond", "type": "nominal", "sort": null, "axis": {"labels": false, "ticks": false, "title": null, "domainColor": "black", "domainWidth": 1.5}}, "y": {"datum": 164.64, "type": "quantitative", "axis": {"values": [0, 20, 40, 60, 80, 100, 120, 140], "labelOverlap": false, "grid": false, "labelFont": "DejaVu Sans", "labelFontSize": 10, "labelColor": "#333", "labelPadding": 1, "tickSize": 4, "tickColor": "#666", "domainColor": "black", "domainWidth": 1.5, "title": "mean ± SEM", "titleFontSize": 15, "titleFontWeight": "normal", "titleColor": "black", "titleX": -17.5, "titleY": 116.5}}}},
            {"transform": [{"filter": "datum.sig"}],
             "mark": {"type": "text", "text": "mEPSC amplitude (%)", "fontSize": 20, "align": "left", "baseline": "alphabetic", "dx": -52.4, "color": "black"},
             "encoding": {"x": {"field": "cond", "type": "nominal", "sort": null, "axis": {"labels": false, "ticks": false, "title": null, "domainColor": "black", "domainWidth": 1.5}}, "y": {"datum": 163.44, "type": "quantitative", "axis": {"values": [0, 20, 40, 60, 80, 100, 120, 140], "labelOverlap": false, "grid": false, "labelFont": "DejaVu Sans", "labelFontSize": 10, "labelColor": "#333", "labelPadding": 1, "tickSize": 4, "tickColor": "#666", "domainColor": "black", "domainWidth": 1.5, "title": "mean ± SEM", "titleFontSize": 15, "titleFontWeight": "normal", "titleColor": "black", "titleX": -17.5, "titleY": 116.5}}}}
          ]
        }
      ]
    },
    {
      "bounds": "flush",
      "spacing": 77,
      "hconcat": [
        {
          "width": 460, "height": 233,
          "resolve": {"scale": {"x": "independent", "y": "independent"}},
          "layer": [
            {"layer": [
              {"data": {"name": "rawC"}, "transform": [{"filter": "datum.row === 'c1'"}],
               "mark": {"type": "line", "color": "#888", "strokeWidth": 4.5, "opacity": 0.3},
               "encoding": {"x": {"field": "t", "type": "quantitative", "scale": {"domain": [-235.7, 3050], "nice": false, "zero": false}, "axis": null},
                            "y": {"field": "i", "type": "quantitative", "scale": {"domain": [-291.43, 41.43], "nice": false, "zero": false}, "axis": null}}},
              {"data": {"name": "rawC"}, "transform": [{"filter": "datum.row === 'c1'"}],
               "mark": {"type": "line", "color": "black", "strokeWidth": 2.6},
               "encoding": {"x": {"field": "t", "type": "quantitative", "axis": null}, "y": {"field": "i", "type": "quantitative", "axis": null}}},
              {"data": {"name": "evC"}, "transform": [{"filter": "datum.row === 'c1'"}],
               "mark": {"type": "line", "color": "black", "strokeWidth": 1.3},
               "encoding": {"x": {"field": "t", "type": "quantitative", "axis": null}, "y": {"field": "i", "type": "quantitative", "axis": null}, "detail": {"field": "ev"}}},
              {"data": {"name": "labels"}, "transform": [{"filter": "datum.row === 'c1'"}],
               "mark": {"type": "point", "shape": "square", "size": 400, "filled": true, "fill": "black", "stroke": "black", "strokeWidth": 1, "opacity": 1},
               "encoding": {"x": {"datum": 71.4, "type": "quantitative", "axis": null}, "y": {"datum": 32.43, "type": "quantitative", "axis": null}}},
              {"data": {"name": "labels"}, "transform": [{"filter": "datum.row === 'c1'"}],
               "mark": {"type": "text", "align": "left", "baseline": "alphabetic", "fontSize": 12, "color": "black"},
               "encoding": {"x": {"datum": 192.9, "type": "quantitative", "axis": null}, "y": {"datum": 37.14, "type": "quantitative", "axis": null}, "text": {"field": "sup"}}},
              {"data": {"name": "labels"}, "transform": [{"filter": "datum.row === 'c1'"}],
               "mark": {"type": "text", "align": "left", "baseline": "alphabetic", "fontSize": 20, "color": "black"},
               "encoding": {"x": {"datum": 457.1, "type": "quantitative", "axis": null}, "y": {"datum": 21.43, "type": "quantitative", "axis": null}, "text": {"field": "name"}}},
              {"data": {"name": "labels"}, "transform": [{"filter": "datum.row === 'c1'"}],
               "mark": {"type": "text", "align": "left", "baseline": "alphabetic", "fontSize": 28, "fontWeight": "bold", "color": "black", "text": "c"},
               "encoding": {"x": {"datum": -235.7, "type": "quantitative", "axis": null}, "y": {"datum": 70, "type": "quantitative", "axis": null}}}
            ]},
            {"data": {"name": "avg"}, "transform": [{"filter": "datum.row === 'c1'"}],
             "mark": {"type": "line", "color": "#1a1a1a", "strokeWidth": 1, "interpolate": "monotone"},
             "encoding": {"x": {"field": "t", "type": "quantitative", "scale": {"domain": [-245.33, 61.33], "nice": false, "zero": false}, "axis": null},
                          "y": {"field": "i", "type": "quantitative", "scale": {"domain": [-146.64, 19.79], "nice": false, "zero": false}, "axis": null}}},
            {"layer": [
              {"data": {"name": "rawC"}, "transform": [{"filter": "datum.row === 'c2'"}],
               "mark": {"type": "line", "color": "#888", "strokeWidth": 6, "opacity": 0.3},
               "encoding": {"x": {"field": "t", "type": "quantitative", "scale": {"domain": [-235.7, 3050], "nice": false, "zero": false}, "axis": null},
                            "y": {"field": "i", "type": "quantitative", "scale": {"domain": [-164.71, 168.14], "nice": false, "zero": false}, "axis": null}}},
              {"data": {"name": "rawC"}, "transform": [{"filter": "datum.row === 'c2'"}],
               "mark": {"type": "line", "color": "black", "strokeWidth": 2.6},
               "encoding": {"x": {"field": "t", "type": "quantitative", "axis": null}, "y": {"field": "i", "type": "quantitative", "axis": null}}},
              {"data": {"name": "evC"}, "transform": [{"filter": "datum.row === 'c2'"}],
               "mark": {"type": "line", "color": "black", "strokeWidth": 1.3},
               "encoding": {"x": {"field": "t", "type": "quantitative", "axis": null}, "y": {"field": "i", "type": "quantitative", "axis": null}, "detail": {"field": "ev"}}},
              {"data": {"name": "labels"}, "transform": [{"filter": "datum.row === 'c2'"}],
               "mark": {"type": "point", "shape": "M-1,-1L1,-1L1,1L-1,1Z M-1,1L1,-1 M0,1L1,0", "size": 400, "filled": true, "fill": "white", "stroke": "#222", "strokeWidth": 1.3, "opacity": 1},
               "encoding": {"x": {"datum": 71.4, "type": "quantitative", "axis": null}, "y": {"datum": 31, "type": "quantitative", "axis": null}}},
              {"data": {"name": "labels"}, "transform": [{"filter": "datum.row === 'c2'"}],
               "mark": {"type": "text", "align": "left", "baseline": "alphabetic", "fontSize": 20, "color": "black"},
               "encoding": {"x": {"datum": 178.6, "type": "quantitative", "axis": null}, "y": {"datum": 21, "type": "quantitative", "axis": null}, "text": {"field": "name"}}},
              {"data": {"values": [{}]}, "mark": {"type": "rule", "color": "black", "strokeWidth": 1},
               "encoding": {"x": {"datum": 1786, "type": "quantitative", "axis": null}, "x2": {"datum": 1986}, "y": {"datum": -67.57, "type": "quantitative", "axis": null}}},
              {"data": {"values": [{}]}, "mark": {"type": "rule", "color": "black", "strokeWidth": 1},
               "encoding": {"x": {"datum": 1986, "type": "quantitative", "axis": null}, "y": {"datum": -67.57, "type": "quantitative", "axis": null}, "y2": {"datum": -47.57}}},
              {"data": {"values": [{}]}, "mark": {"type": "text", "align": "left", "baseline": "alphabetic", "fontSize": 14.5, "color": "black", "text": "20pA"},
               "encoding": {"x": {"datum": 2000, "type": "quantitative", "axis": null}, "y": {"datum": -64.71, "type": "quantitative", "axis": null}}},
              {"data": {"values": [{}]}, "mark": {"type": "text", "align": "left", "baseline": "alphabetic", "fontSize": 14, "color": "black", "text": "200ms"},
               "encoding": {"x": {"datum": 1786, "type": "quantitative", "axis": null}, "y": {"datum": -86.14, "type": "quantitative", "axis": null}}}
            ]},
            {"layer": [
              {"data": {"name": "avg"}, "transform": [{"filter": "datum.row === 'c2'"}],
               "mark": {"type": "line", "color": "#1a1a1a", "strokeWidth": 1, "interpolate": "monotone"},
               "encoding": {"x": {"field": "t", "type": "quantitative", "scale": {"domain": [-245.33, 61.33], "nice": false, "zero": false}, "axis": null},
                            "y": {"field": "i", "type": "quantitative", "scale": {"domain": [-83.21, 83.21], "nice": false, "zero": false}, "axis": null}}},
              {"data": {"values": [{}]}, "mark": {"type": "rule", "color": "black", "strokeWidth": 1},
               "encoding": {"x": {"datum": 19.3, "type": "quantitative", "axis": null}, "x2": {"datum": 29.3}, "y": {"datum": -34.64, "type": "quantitative", "axis": null}}},
              {"data": {"values": [{}]}, "mark": {"type": "rule", "color": "black", "strokeWidth": 1},
               "encoding": {"x": {"datum": 29.3, "type": "quantitative", "axis": null}, "y": {"datum": -34.64, "type": "quantitative", "axis": null}, "y2": {"datum": -24.64}}},
              {"data": {"values": [{}]}, "mark": {"type": "text", "align": "left", "baseline": "alphabetic", "fontSize": 14.5, "color": "black", "text": "10pA"},
               "encoding": {"x": {"datum": 32, "type": "quantitative", "axis": null}, "y": {"datum": -33.21, "type": "quantitative", "axis": null}}},
              {"data": {"values": [{}]}, "mark": {"type": "text", "align": "left", "baseline": "alphabetic", "fontSize": 14, "color": "black", "text": "10ms"},
               "encoding": {"x": {"datum": 20, "type": "quantitative", "axis": null}, "y": {"datum": -43.93, "type": "quantitative", "axis": null}}}
            ]}
          ]
        },
        {
          "width": 88, "height": 233,
          "data": {"name": "barsD"},
          "layer": [
            {"mark": {"type": "bar", "strokeWidth": 1},
             "encoding": {
               "x": {"field": "cond", "type": "nominal", "sort": null, "scale": {"paddingInner": 0, "paddingOuter": 0.15}, "axis": {"labels": false, "ticks": false, "title": null, "domainColor": "black", "domainWidth": 1.5}},
               "y": {"field": "mean", "type": "quantitative", "scale": {"domain": [0, 140], "nice": false}, "axis": {"values": [0, 20, 40, 60, 80, 100, 120, 140], "labelOverlap": false, "grid": false, "labelFont": "DejaVu Sans", "labelFontSize": 10, "labelColor": "#333", "labelPadding": 1, "tickSize": 4, "tickColor": "#666", "domainColor": "black", "domainWidth": 1.5, "title": "mean ± SEM", "titleFontSize": 15, "titleFontWeight": "normal", "titleColor": "black", "titleX": -17.5, "titleY": 116.5}},
               "fill": {"field": "cond", "type": "nominal", "sort": null, "scale": {"domain": ["EGFP-RIL", "non-infected"], "range": ["#000000", "#ffffff"]}, "legend": null},
               "stroke": {"field": "cond", "type": "nominal", "sort": null, "scale": {"domain": ["EGFP-RIL", "non-infected"], "range": ["#000000", "#444444"]}, "legend": null}
             }},
            {"transform": [{"filter": "datum.cond === 'non-infected'"}],
             "mark": {"type": "bar", "stroke": "#444", "strokeWidth": 1,
               "fill": {"gradient": "linear", "x1": 0, "y1": 0, "x2": 0.1923, "y2": 1.1367, "stops": [
                 {"offset": 0, "color": "#fff"}, {"offset": 0.05, "color": "#fff"}, {"offset": 0.05, "color": "#000"}, {"offset": 0.0625, "color": "#000"},
                 {"offset": 0.0625, "color": "#fff"}, {"offset": 0.1125, "color": "#fff"}, {"offset": 0.1125, "color": "#000"}, {"offset": 0.125, "color": "#000"},
                 {"offset": 0.125, "color": "#fff"}, {"offset": 0.175, "color": "#fff"}, {"offset": 0.175, "color": "#000"}, {"offset": 0.1875, "color": "#000"},
                 {"offset": 0.1875, "color": "#fff"}, {"offset": 0.2375, "color": "#fff"}, {"offset": 0.2375, "color": "#000"}, {"offset": 0.25, "color": "#000"},
                 {"offset": 0.25, "color": "#fff"}, {"offset": 0.3, "color": "#fff"}, {"offset": 0.3, "color": "#000"}, {"offset": 0.3125, "color": "#000"},
                 {"offset": 0.3125, "color": "#fff"}, {"offset": 0.3625, "color": "#fff"}, {"offset": 0.3625, "color": "#000"}, {"offset": 0.375, "color": "#000"},
                 {"offset": 0.375, "color": "#fff"}, {"offset": 0.425, "color": "#fff"}, {"offset": 0.425, "color": "#000"}, {"offset": 0.4375, "color": "#000"},
                 {"offset": 0.4375, "color": "#fff"}, {"offset": 0.4875, "color": "#fff"}, {"offset": 0.4875, "color": "#000"}, {"offset": 0.5, "color": "#000"},
                 {"offset": 0.5, "color": "#fff"}, {"offset": 0.55, "color": "#fff"}, {"offset": 0.55, "color": "#000"}, {"offset": 0.5625, "color": "#000"},
                 {"offset": 0.5625, "color": "#fff"}, {"offset": 0.6125, "color": "#fff"}, {"offset": 0.6125, "color": "#000"}, {"offset": 0.625, "color": "#000"},
                 {"offset": 0.625, "color": "#fff"}, {"offset": 0.675, "color": "#fff"}, {"offset": 0.675, "color": "#000"}, {"offset": 0.6875, "color": "#000"},
                 {"offset": 0.6875, "color": "#fff"}, {"offset": 0.7375, "color": "#fff"}, {"offset": 0.7375, "color": "#000"}, {"offset": 0.75, "color": "#000"},
                 {"offset": 0.75, "color": "#fff"}, {"offset": 0.8, "color": "#fff"}, {"offset": 0.8, "color": "#000"}, {"offset": 0.8125, "color": "#000"},
                 {"offset": 0.8125, "color": "#fff"}, {"offset": 0.8625, "color": "#fff"}, {"offset": 0.8625, "color": "#000"}, {"offset": 0.875, "color": "#000"},
                 {"offset": 0.875, "color": "#fff"}, {"offset": 0.925, "color": "#fff"}, {"offset": 0.925, "color": "#000"}, {"offset": 0.9375, "color": "#000"},
                 {"offset": 0.9375, "color": "#fff"}, {"offset": 0.9875, "color": "#fff"}, {"offset": 0.9875, "color": "#000"}, {"offset": 1, "color": "#000"}
               ]}},
             "encoding": {"x": {"field": "cond", "type": "nominal", "sort": null, "axis": {"labels": false, "ticks": false, "title": null, "domainColor": "black", "domainWidth": 1.5}}, "y": {"field": "mean", "type": "quantitative", "axis": {"values": [0, 20, 40, 60, 80, 100, 120, 140], "labelOverlap": false, "grid": false, "labelFont": "DejaVu Sans", "labelFontSize": 10, "labelColor": "#333", "labelPadding": 1, "tickSize": 4, "tickColor": "#666", "domainColor": "black", "domainWidth": 1.5, "title": "mean ± SEM", "titleFontSize": 15, "titleFontWeight": "normal", "titleColor": "black", "titleX": -17.5, "titleY": 116.5}}}},
            {"mark": {"type": "rule", "color": "black", "strokeWidth": 1.2},
             "encoding": {"x": {"field": "cond", "type": "nominal", "sort": null, "axis": {"labels": false, "ticks": false, "title": null, "domainColor": "black", "domainWidth": 1.5}}, "y": {"field": "lo", "type": "quantitative", "axis": {"values": [0, 20, 40, 60, 80, 100, 120, 140], "labelOverlap": false, "grid": false, "labelFont": "DejaVu Sans", "labelFontSize": 10, "labelColor": "#333", "labelPadding": 1, "tickSize": 4, "tickColor": "#666", "domainColor": "black", "domainWidth": 1.5, "title": "mean ± SEM", "titleFontSize": 15, "titleFontWeight": "normal", "titleColor": "black", "titleX": -17.5, "titleY": 116.5}}, "y2": {"field": "hi"}}},
            {"mark": {"type": "tick", "color": "black", "thickness": 1.2, "size": 6},
             "encoding": {"x": {"field": "cond", "type": "nominal", "sort": null, "axis": {"labels": false, "ticks": false, "title": null, "domainColor": "black", "domainWidth": 1.5}}, "y": {"field": "hi", "type": "quantitative", "axis": {"values": [0, 20, 40, 60, 80, 100, 120, 140], "labelOverlap": false, "grid": false, "labelFont": "DejaVu Sans", "labelFontSize": 10, "labelColor": "#333", "labelPadding": 1, "tickSize": 4, "tickColor": "#666", "domainColor": "black", "domainWidth": 1.5, "title": "mean ± SEM", "titleFontSize": 15, "titleFontWeight": "normal", "titleColor": "black", "titleX": -17.5, "titleY": 116.5}}}},
            {"mark": {"type": "tick", "color": "black", "thickness": 1.2, "size": 6},
             "encoding": {"x": {"field": "cond", "type": "nominal", "sort": null, "axis": {"labels": false, "ticks": false, "title": null, "domainColor": "black", "domainWidth": 1.5}}, "y": {"field": "lo", "type": "quantitative", "axis": {"values": [0, 20, 40, 60, 80, 100, 120, 140], "labelOverlap": false, "grid": false, "labelFont": "DejaVu Sans", "labelFontSize": 10, "labelColor": "#333", "labelPadding": 1, "tickSize": 4, "tickColor": "#666", "domainColor": "black", "domainWidth": 1.5, "title": "mean ± SEM", "titleFontSize": 15, "titleFontWeight": "normal", "titleColor": "black", "titleX": -17.5, "titleY": 116.5}}}},
            {"transform": [{"filter": "datum.sig"}],
             "mark": {"type": "text", "text": "*", "fontSize": 20, "baseline": "alphabetic", "dy": 5, "color": "black"},
             "encoding": {"x": {"field": "cond", "type": "nominal", "sort": null, "axis": {"labels": false, "ticks": false, "title": null, "domainColor": "black", "domainWidth": 1.5}}, "y": {"field": "hi", "type": "quantitative", "axis": {"values": [0, 20, 40, 60, 80, 100, 120, 140], "labelOverlap": false, "grid": false, "labelFont": "DejaVu Sans", "labelFontSize": 10, "labelColor": "#333", "labelPadding": 1, "tickSize": 4, "tickColor": "#666", "domainColor": "black", "domainWidth": 1.5, "title": "mean ± SEM", "titleFontSize": 15, "titleFontWeight": "normal", "titleColor": "black", "titleX": -17.5, "titleY": 116.5}}}},
            {"transform": [{"filter": "datum.sig"}],
             "mark": {"type": "text", "text": "d", "fontSize": 31, "fontWeight": "bold", "align": "left", "baseline": "alphabetic", "dx": -83.9, "color": "black"},
             "encoding": {"x": {"field": "cond", "type": "nominal", "sort": null, "axis": {"labels": false, "ticks": false, "title": null, "domainColor": "black", "domainWidth": 1.5}}, "y": {"datum": 158.05, "type": "quantitative", "axis": {"values": [0, 20, 40, 60, 80, 100, 120, 140], "labelOverlap": false, "grid": false, "labelFont": "DejaVu Sans", "labelFontSize": 10, "labelColor": "#333", "labelPadding": 1, "tickSize": 4, "tickColor": "#666", "domainColor": "black", "domainWidth": 1.5, "title": "mean ± SEM", "titleFontSize": 15, "titleFontWeight": "normal", "titleColor": "black", "titleX": -17.5, "titleY": 116.5}}}},
            {"transform": [{"filter": "datum.sig"}],
             "mark": {"type": "text", "text": "mEPSC amplitude (%)", "fontSize": 20.5, "align": "left", "baseline": "alphabetic", "dx": -48.6, "color": "black"},
             "encoding": {"x": {"field": "cond", "type": "nominal", "sort": null, "axis": {"labels": false, "ticks": false, "title": null, "domainColor": "black", "domainWidth": 1.5}}, "y": {"datum": 159.25, "type": "quantitative", "axis": {"values": [0, 20, 40, 60, 80, 100, 120, 140], "labelOverlap": false, "grid": false, "labelFont": "DejaVu Sans", "labelFontSize": 10, "labelColor": "#333", "labelPadding": 1, "tickSize": 4, "tickColor": "#666", "domainColor": "black", "domainWidth": 1.5, "title": "mean ± SEM", "titleFontSize": 15, "titleFontWeight": "normal", "titleColor": "black", "titleX": -17.5, "titleY": 116.5}}}}
          ]
        }
      ]
    }
  ]
}
